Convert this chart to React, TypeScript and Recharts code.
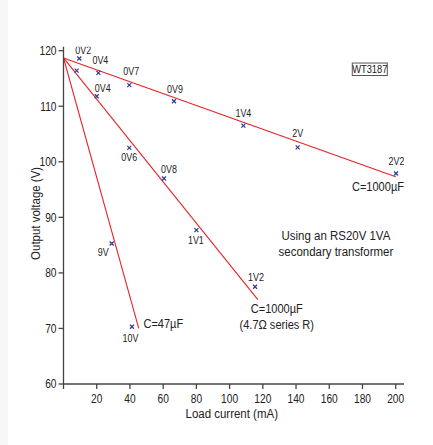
import React from 'react';
import {
  ComposedChart,
  Line,
  Scatter,
  XAxis,
  YAxis,
  ReferenceDot,
  Label,
} from 'recharts';

// Measured points: load current (mA), output voltage (V), ripple voltage label
const largeCapCurrent = [9.5, 21, 39.6, 66.5, 108.3, 141, 200.2];
const largeCapVolts = [118.6, 116.0, 113.8, 110.9, 106.5, 102.6, 97.9];
const largeCapRipple = ['0V2', '0V4', '0V7', '0V9', '1V4', '2V', '2V2'];

const seriesRCurrent = [7.9, 20, 39.6, 60.5, 80, 115.3];
const seriesRVolts = [116.4, 111.8, 102.5, 97.0, 87.7, 77.5];
const seriesRRipple = ['', '0V4', '0V6', '0V8', '1V1', '1V2'];

const smallCapCurrent = [29, 41.2];
const smallCapVolts = [85.3, 70.3];
const smallCapRipple = ['9V', '10V'];

// Straight-line fits drawn through each set of measurements
const largeCapFitCurrent = [0, 200];
const largeCapFitVolts = [118.7, 97.3];
const seriesRFitCurrent = [0, 117];
const seriesRFitVolts = [118.7, 75.2];
const smallCapFitCurrent = [0, 45.3];
const smallCapFitVolts = [118.7, 70.0];

const xTicks = [0, 20, 40, 60, 80, 100, 120, 140, 160, 180, 200];
const yTicks = [60, 70, 80, 90, 100, 110, 120];

const zip = (xs: number[], ys: number[], labels?: string[]) =>
  xs.map((x, i) => ({ x, v: ys[i], ripple: labels ? labels[i] : '' }));

const largeCapPoints = zip(largeCapCurrent, largeCapVolts, largeCapRipple);
const seriesRPoints = zip(seriesRCurrent, seriesRVolts, seriesRRipple);
const smallCapPoints = zip(smallCapCurrent, smallCapVolts, smallCapRipple);
const largeCapFit = zip(largeCapFitCurrent, largeCapFitVolts);
const seriesRFit = zip(seriesRFitCurrent, seriesRFitVolts);
const smallCapFit = zip(smallCapFitCurrent, smallCapFitVolts);

const FONT = "'Liberation Sans', Arial, Helvetica, sans-serif";
const SQUEEZE = 0.85; // horizontal condensing for a narrow Helvetica look
const RED = '#e82228';
const BLUE = '#2b3a9c';
const INK = '#222';
const AXIS = '#444';

type Anchor = 'start' | 'middle' | 'end';

function NarrowText(props: {
  x: number;
  y: number;
  size: number;
  anchor?: Anchor;
  rotate?: number;
  children: React.ReactNode;
}) {
  const { x, y, size, anchor = 'middle', rotate = 0, children } = props;
  return (
    <text
      transform={`translate(${x} ${y}) rotate(${rotate}) scale(${SQUEEZE} 1)`}
      textAnchor={anchor}
      dominantBaseline="central"
      fontFamily={FONT}
      fontSize={size}
      fill={INK}
    >
      {children}
    </text>
  );
}

// Where each ripple label sits relative to its marker (px)
const largeCapNudge: Record<string, [number, number]> = {
  '0V2': [4, -8],
  '0V4': [2, -13],
  '0V7': [2, -13.5],
  '0V9': [1, -12],
  '1V4': [0, -12],
  '2V': [0, -14],
  '2V2': [0.5, -12.5],
};
const seriesRNudge: Record<string, [number, number]> = {
  '0V4': [6, -8],
  '0V6': [0, 9.5],
  '0V8': [5, -9],
  '1V1': [-0.5, 10],
  '1V2': [1, -10],
};
const smallCapNudge: Record<string, [number, number]> = {
  '9V': [-8.5, 8.5],
  '10V': [-1.5, 11.5],
};

const crossWithLabel = (nudge: Record<string, [number, number]>) => (props: any) => {
  const { cx, cy, payload } = props;
  if (cx == null || cy == null) return <g />;
  const s = 2;
  const label: string = payload?.ripple ?? '';
  const [dx, dy] = nudge[label] ?? [0, -12];
  return (
    <g>
      <path
        d={`M${cx - s},${cy - s}L${cx + s},${cy + s}M${cx + s},${cy - s}L${cx - s},${cy + s}`}
        stroke={BLUE}
        strokeWidth={1.2}
      />
      {label ? (
        <NarrowText x={cx + dx} y={cy + dy} size={10.5}>
          {label}
        </NarrowText>
      ) : null}
    </g>
  );
};

const textAt =
  (lines: string[], anchor: Anchor, size: number, lineGap = 16) =>
  (props: any) => {
    const { cx, cy } = props;
    return (
      <g>
        {lines.map((t, i) => (
          <NarrowText key={i} x={cx} y={cy + i * lineGap} size={size} anchor={anchor}>
            {t}
          </NarrowText>
        ))}
      </g>
    );
  };

const figureTag = (props: any) => {
  const { cx, cy } = props;
  return (
    <g>
      <rect x={cx - 17.5} y={cy - 6} width={35} height={12.5} fill="#fff" stroke="#555" strokeWidth={1} />
      <NarrowText x={cx} y={cy + 0.5} size={11}>
        WT3187
      </NarrowText>
    </g>
  );
};

const XTick = (props: any) => {
  const { x, y, payload } = props;
  if (payload.value === 0) return <g />;
  return (
    <NarrowText x={x} y={y + 4.5} size={12}>
      {payload.value}
    </NarrowText>
  );
};

const YTick = (props: any) => {
  const { x, y, payload } = props;
  return (
    <NarrowText x={x} y={y} size={12} anchor="end">
      {payload.value}
    </NarrowText>
  );
};

export default function App() {
  return (
    <div style={{ position: 'absolute', left: 0, top: 0, width: 433, height: 445, background: '#fff' }}>
      <div style={{ position: 'absolute', left: 0, top: 0, width: 8, height: 445, background: '#f7f7f7' }} />
      <ComposedChart
        width={433}
        height={445}
        margin={{ top: 46.8, right: 29, bottom: 31, left: 23.5 }}
        style={{ position: 'absolute', left: 0, top: 0 }}
      >
        <XAxis
          type="number"
          dataKey="x"
          domain={[0, 205]}
          ticks={xTicks}
          allowDataOverflow
          height={30}
          tickSize={5}
          tickMargin={5}
          stroke={AXIS}
          strokeWidth={1.3}
          tick={<XTick />}
        >
          <Label
            content={(p: any) => {
              const vb = p.viewBox || {};
              return (
                <NarrowText x={vb.x + vb.width / 2 - 2} y={vb.y + 29.5} size={13.5}>
                  Load current (mA)
                </NarrowText>
              );
            }}
          />
        </XAxis>
        <YAxis
          type="number"
          dataKey="v"
          domain={[60, 120.7]}
          ticks={yTicks}
          allowDataOverflow
          width={40}
          tickSize={5}
          tickMargin={2}
          stroke={AXIS}
          strokeWidth={1.3}
          tick={<YTick />}
        >
          <Label
            content={(p: any) => {
              const vb = p.viewBox || {};
              return (
                <NarrowText x={vb.x + 12} y={vb.y + vb.height / 2 - 2} size={13.5} rotate={-90}>
                  Output voltage (V)
                </NarrowText>
              );
            }}
          />
        </YAxis>

        <Line data={largeCapFit} dataKey="v" stroke={RED} strokeWidth={1.1} dot={false} isAnimationActive={false} />
        <Line data={seriesRFit} dataKey="v" stroke={RED} strokeWidth={1.1} dot={false} isAnimationActive={false} />
        <Line data={smallCapFit} dataKey="v" stroke={RED} strokeWidth={1.1} dot={false} isAnimationActive={false} />

        <Scatter data={largeCapPoints} dataKey="v" shape={crossWithLabel(largeCapNudge)} isAnimationActive={false} />
        <Scatter data={seriesRPoints} dataKey="v" shape={crossWithLabel(seriesRNudge)} isAnimationActive={false} />
        <Scatter data={smallCapPoints} dataKey="v" shape={crossWithLabel(smallCapNudge)} isAnimationActive={false} />

        <ReferenceDot x={205} y={95.5} r={0} ifOverflow="visible" shape={textAt(['C=1000\u00b5F'], 'end', 13)} />
        <ReferenceDot
          x={164}
          y={86.7}
          r={0}
          ifOverflow="visible"
          shape={textAt(['Using an RS20V 1VA', 'secondary transformer'], 'middle', 13.5)}
        />
        <ReferenceDot
          x={128.4}
          y={73.6}
          r={0}
          ifOverflow="visible"
          shape={textAt(['C=1000\u00b5F', '(4.7\u03a9 series R)'], 'middle', 13)}
        />
        <ReferenceDot x={60.1} y={70.9} r={0} ifOverflow="visible" shape={textAt(['C=47\u00b5F'], 'middle', 13)} />
        <ReferenceDot x={184.4} y={116.7} r={0} ifOverflow="visible" shape={figureTag} />
      </ComposedChart>
    </div>
  );
}
